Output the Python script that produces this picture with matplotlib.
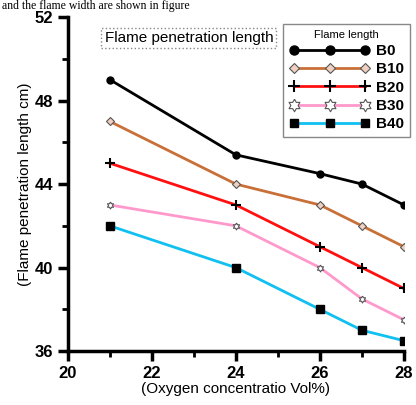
import matplotlib.pyplot as plt
from matplotlib.ticker import MultipleLocator

plt.rcParams['font.family'] = ['Liberation Sans', 'DejaVu Sans']

# data
oxygen = [21, 24, 26, 27, 28]
b0 = [49, 45.4, 44.5, 44, 43]
b10 = [47, 44, 43, 42, 41]
b20 = [45, 43, 41, 40, 39]
b30 = [43, 42, 40, 38.5, 37.5]
b40 = [42, 40, 38, 37, 36.5]
labels = ['B0', 'B10', 'B20', 'B30', 'B40']

# six-pointed star marker
star6 = [(0, 1), (0.29, 0.5), (0.87, 0.5), (0.58, 0), (0.87, -0.5), (0.29, -0.5),
         (0, -1), (-0.29, -0.5), (-0.87, -0.5), (-0.58, 0), (-0.87, 0.5), (-0.29, 0.5), (0, 1)]

styles = [
    dict(color='black', marker='o', ms=5, mfc='black', mec='black'),
    dict(color='#c87038', marker='D', ms=4, mfc='#f0d0c0', mec='#555555', mew=0.8),
    dict(color='#ff1010', marker='+', ms=7, mec='black', mew=1.5),
    dict(color='#ff99cc', marker=star6, ms=5, mfc='white', mec='#555555', mew=0.8),
    dict(color='#10c0f0', marker='s', ms=6, mfc='black', mec='black'),
]
legend_ms = [6.5, 5, 8, 9, 6]

fig = plt.figure(figsize=(4.16, 4.05), dpi=100)
ax = fig.add_axes([0.163, 0.133, 0.808, 0.825])

series = [b0, b10, b20, b30, b40]
for vals, lab, st in zip(series, labels, styles):
    ax.plot(oxygen, vals, lw=2, label=lab, **st)

ax.set_xlim(20, 28)
ax.set_ylim(36, 52)
ax.xaxis.set_major_locator(MultipleLocator(2))
ax.xaxis.set_minor_locator(MultipleLocator(1))
ax.yaxis.set_major_locator(MultipleLocator(4))
ax.yaxis.set_minor_locator(MultipleLocator(2))
ax.spines['top'].set_visible(False)
ax.spines['right'].set_visible(False)
for s in ['left', 'bottom']:
    ax.spines[s].set_linewidth(2.5)
ax.tick_params(which='major', direction='out', length=7, width=2.5, labelsize=12)
ax.tick_params(which='minor', direction='out', length=4, width=2)
for t in ax.get_xticklabels() + ax.get_yticklabels():
    t.set_fontweight('bold')

ax.set_xlabel('(Oxygen concentratio Vol%)', fontsize=11, labelpad=1)
ax.set_ylabel('(Flame penetration length cm)', fontsize=11, labelpad=2)

ax.text(0.36, 0.937, 'Flame penetration length', transform=ax.transAxes,
        ha='center', va='center', fontsize=11,
        bbox=dict(boxstyle='square,pad=0.2', fc='white', ec='#888888', ls=':', lw=1))

leg = ax.legend(loc='upper left', bbox_to_anchor=(0.64, 0.98), borderaxespad=0,
                numpoints=3, handlelength=5.3, title='Flame length', title_fontsize=8,
                prop={'weight': 'bold', 'size': 11}, fancybox=False,
                edgecolor='#888888', framealpha=1, borderpad=0.4,
                labelspacing=0.28, handletextpad=0.4)
for h, m in zip(leg.legend_handles, legend_ms):
    h.set_markersize(m)

fig.text(0.005, 1.0, 'and the flame width are shown in figure', fontsize=8.5,
         family='Liberation Serif', va='top', ha='left')

fig.savefig('out.png', dpi=100)
